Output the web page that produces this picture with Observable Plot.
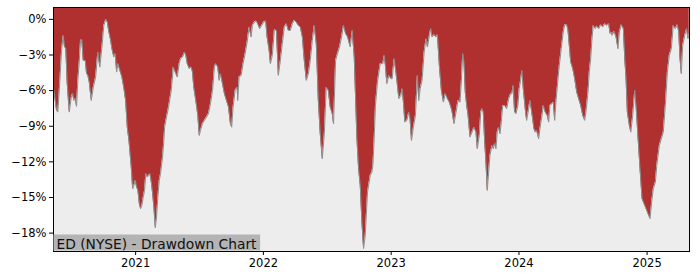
<!DOCTYPE html>
<html><head><meta charset="utf-8">
<script src="https://cdn.jsdelivr.net/npm/d3@7"></script>
<script src="https://cdn.jsdelivr.net/npm/@observablehq/plot@0.6"></script>
<style>body{margin:0;background:#fff;}</style>
</head><body><div id="chart"></div>
<script>
// decimal years of each sample
const years = [
2020.362,2020.383,2020.393,2020.409,2020.422,2020.435,2020.445,2020.455,2020.466,2020.482,
2020.498,2020.508,2020.518,2020.529,2020.539,2020.549,2020.560,2020.570,2020.580,2020.591,
2020.607,2020.617,2020.627,2020.638,2020.654,2020.670,2020.688,2020.705,2020.721,2020.737,
2020.752,2020.768,2020.779,2020.789,2020.805,2020.815,2020.830,2020.841,2020.852,2020.862,
2020.877,2020.893,2020.909,2020.922,2020.935,2020.948,2020.966,2020.977,2020.987,2020.998,
2021.008,2021.018,2021.029,2021.039,2021.049,2021.060,2021.070,2021.080,2021.091,2021.102,
2021.112,2021.123,2021.133,2021.143,2021.154,2021.164,2021.174,2021.185,2021.195,2021.211,
2021.221,2021.227,2021.242,2021.258,2021.279,2021.295,2021.310,2021.326,2021.341,2021.352,
2021.367,2021.383,2021.393,2021.404,2021.420,2021.435,2021.445,2021.455,2021.471,2021.487,
2021.498,2021.508,2021.523,2021.539,2021.555,2021.570,2021.586,2021.602,2021.617,2021.627,
2021.643,2021.654,2021.664,2021.680,2021.695,2021.711,2021.727,2021.742,2021.752,2021.763,
2021.779,2021.795,2021.799,2021.810,2021.826,2021.841,2021.857,2021.873,2021.888,2021.904,
2021.914,2021.930,2021.945,2021.961,2021.971,2021.987,2022.002,2022.018,2022.029,2022.045,
2022.055,2022.070,2022.086,2022.102,2022.117,2022.133,2022.148,2022.164,2022.180,2022.195,
2022.211,2022.227,2022.242,2022.258,2022.273,2022.289,2022.305,2022.320,2022.336,2022.352,
2022.367,2022.383,2022.398,2022.414,2022.430,2022.445,2022.461,2022.477,2022.492,2022.508,
2022.523,2022.539,2022.549,2022.565,2022.580,2022.596,2022.612,2022.627,2022.643,2022.659,
2022.680,2022.695,2022.711,2022.732,2022.745,2022.758,2022.771,2022.784,2022.797,2022.815,
2022.836,2022.849,2022.857,2022.867,2022.877,2022.893,2022.914,2022.935,2022.945,2022.955,
2022.966,2022.982,2022.998,2023.008,2023.023,2023.034,2023.049,2023.060,2023.076,2023.086,
2023.096,2023.107,2023.123,2023.138,2023.148,2023.159,2023.174,2023.190,2023.205,2023.216,
2023.227,2023.242,2023.258,2023.273,2023.284,2023.299,2023.310,2023.320,2023.336,2023.352,
2023.362,2023.377,2023.393,2023.409,2023.424,2023.440,2023.455,2023.471,2023.477,2023.492,
2023.508,2023.523,2023.539,2023.549,2023.560,2023.570,2023.580,2023.591,2023.602,2023.617,
2023.633,2023.648,2023.664,2023.674,2023.690,2023.701,2023.711,2023.721,2023.732,2023.742,
2023.752,2023.763,2023.773,2023.789,2023.799,2023.810,2023.820,2023.830,2023.841,2023.852,
2023.862,2023.873,2023.888,2023.904,2023.920,2023.935,2023.945,2023.955,2023.966,2023.977,
2023.992,2024.002,2024.013,2024.023,2024.034,2024.049,2024.060,2024.076,2024.086,2024.096,
2024.107,2024.117,2024.127,2024.138,2024.154,2024.164,2024.180,2024.190,2024.205,2024.221,
2024.232,2024.242,2024.258,2024.268,2024.279,2024.289,2024.305,2024.315,2024.330,2024.346,
2024.357,2024.373,2024.383,2024.393,2024.404,2024.420,2024.435,2024.451,2024.466,2024.482,
2024.498,2024.513,2024.523,2024.539,2024.549,2024.560,2024.570,2024.580,2024.596,2024.607,
2024.623,2024.638,2024.654,2024.670,2024.685,2024.701,2024.711,2024.721,2024.727,2024.742,
2024.758,2024.773,2024.784,2024.799,2024.815,2024.826,2024.836,2024.846,2024.862,2024.873,
2024.888,2024.904,2024.914,2024.930,2024.945,2024.961,2024.982,2024.998,2025.013,2025.023,
2025.039,2025.049,2025.065,2025.076,2025.096,2025.112,2025.127,2025.143,2025.159,2025.174,
2025.190,2025.205,2025.221,2025.237,2025.248,2025.258,2025.268,2025.279,2025.295,2025.310,
2025.320,2025.330
];
// drawdown in percent
const drawdown = [
-5.98,-7.67,-7.81,-5.14,-2.61,-1.35,-2.33,-2.44,-5.39,-7.81,
-6.55,-6.24,-6.83,-6.66,-7.33,-5.14,-3.60,-1.77,-1.71,-3.46,
-3.46,-4.55,-4.72,-5.28,-6.83,-5.71,-4.86,-2.76,-4.02,-2.33,
-0.51,0,-0.23,-0.93,-1.77,-2.47,-3.18,-2.89,-4.44,-3.73,
-4.30,-4.86,-5.84,-6.83,-9.08,-10.20,-12.45,-14.27,-13.99,-13.57,
-14.13,-14.41,-15.53,-15.95,-15.67,-14.97,-14.41,-12.98,-13.29,-13.15,
-13.00,-13.71,-14.66,-15.82,-17.55,-16.66,-14.97,-13.57,-13.00,-11.60,
-10.20,-9.08,-8.23,-7.39,-5.98,-4.02,-4.44,-4.86,-3.73,-3.31,
-3.18,-2.76,-3.03,-3.73,-4.15,-4.02,-4.44,-5.71,-6.83,-8.09,
-9.78,-9.35,-8.79,-8.51,-8.23,-7.95,-7.10,-5.98,-4.02,-3.73,
-4.02,-5.14,-4.58,-5.42,-6.26,-6.83,-7.39,-8.79,-9.08,-7.39,
-5.98,-5.71,-6.83,-4.86,-4.72,-3.73,-2.89,-1.91,-0.65,-1.49,
-0.51,-0.23,-0.14,-0.51,-0.78,-0.51,-0.23,-0.14,-1.49,-2.61,
-3.73,-3.03,-0.87,-0.93,-4.72,-3.46,-2.05,-0.65,-0.36,-0.93,
-0.93,-0.36,-0.08,-0.25,-0.51,-0.65,-1.49,-3.46,-5.14,-4.58,
-3.46,-1.77,-0.51,-2.05,-6.83,-9.63,-11.74,-9.61,-5.71,-5.98,
-7.39,-7.95,-8.79,-3.46,-2.89,-2.33,-1.49,-0.51,-1.18,-1.49,
-2.33,-0.93,-3.18,-10.03,-12.58,-13.99,-17.08,-19.30,-18.20,-14.55,
-13.15,-12.87,-12.30,-10.05,-7.25,-5.28,-3.73,-3.73,-3.03,-3.88,
-5.42,-4.72,-5.00,-5.00,-3.31,-4.15,-5.56,-6.68,-6.40,-5.84,
-6.97,-8.65,-8.51,-7.81,-8.37,-10.20,-9.08,-8.09,-4.72,-6.83,
-5.84,-5.14,-2.76,-1.63,-2.33,-1.35,-0.78,-1.49,-1.29,-1.49,
-1.29,-3.88,-5.98,-6.97,-6.26,-6.68,-6.97,-7.53,-7.81,-8.79,
-7.81,-6.83,-6.97,-5.28,-2.89,-3.60,-6.13,-7.25,-8.09,-9.92,
-9.50,-9.08,-9.50,-10.90,-9.78,-7.81,-7.53,-7.81,-10.34,-12.03,
-14.41,-12.87,-11.46,-10.62,-10.90,-10.47,-10.90,-9.50,-9.08,-9.63,
-8.65,-7.25,-7.25,-7.53,-6.68,-6.26,-6.26,-5.56,-7.81,-7.95,
-7.25,-5.84,-5.14,-4.30,-5.84,-7.53,-8.51,-7.53,-6.83,-7.53,
-8.37,-9.21,-9.50,-9.35,-10.05,-9.21,-8.09,-7.25,-7.81,-8.09,
-8.65,-7.25,-7.10,-6.97,-8.51,-6.97,-5.00,-3.88,-2.47,-1.07,
-0.45,-0.45,-0.93,-2.19,-3.60,-4.15,-5.00,-6.13,-6.68,-7.25,
-8.09,-8.51,-7.81,-6.13,-4.44,-3.31,-1.63,-0.51,-0.78,-0.56,
-0.78,-0.45,-0.65,-0.36,-0.51,-0.36,-1.21,-1.07,-1.35,-1.01,
-1.49,-2.47,-1.07,-0.45,-0.78,-3.31,-5.00,-7.81,-8.93,-9.50,
-8.09,-5.98,-7.25,-10.05,-12.58,-15.11,-15.67,-16.10,-16.52,-16.79,
-15.11,-14.27,-13.71,-12.30,-10.62,-10.05,-9.50,-7.25,-4.44,-3.03,
-2.47,-0.51,-0.78,-0.45,-1.07,-3.31,-4.58,-2.19,-1.35,-0.78,
-1.63,-1.21
];
const yTicks = [0, -3, -6, -9, -12, -15, -18];
const xTickYears = [2021, 2022, 2023, 2024, 2025];
const xRange = [2020.359, 2025.332];
const yRange = [-19.55, 1.0];
const title = "ED (NYSE) - Drawdown Chart";

function toDate(t) {
  const y = Math.floor(t);
  const s = Date.UTC(y, 0, 1), e = Date.UTC(y + 1, 0, 1);
  return new Date(s + (t - y) * (e - s));
}
const data = years.map((t, i) => ({date: toDate(t), v: drawdown[i]}));
const yTop = yRange[1];
const W = 700, H = 280, mL = 53, mR = 11, mT = 7, mB = 29;

const chart = Plot.plot({
  width: W, height: H,
  marginLeft: mL, marginRight: mR, marginTop: mT, marginBottom: mB,
  style: {fontFamily: "DejaVu Sans", fontSize: "11.5px", color: "#000", background: "#fff"},
  x: {type: "utc", domain: xRange.map(toDate),
      ticks: xTickYears.map(y => new Date(Date.UTC(y, 0, 1))),
      tickFormat: d => String(d.getUTCFullYear()), tickSize: 4, tickPadding: 3, label: null},
  y: {domain: yRange, ticks: yTicks,
      tickFormat: d => (d < 0 ? "\u2212" : "") + Math.abs(d) + "%",
      tickSize: 4, tickPadding: 3, label: null},
  marks: [
    Plot.frame({fill: "#ededed"}),
    Plot.areaY(data, {x: "date", y1: "v", y2: () => yTop, fill: "#b03030"}),
    Plot.lineY(data, {x: "date", y: "v", stroke: "#8e8e8e", strokeWidth: 1}),
    Plot.frame({stroke: "#000"}),
    Plot.text([title], {frameAnchor: "bottom-left", text: d => d, dx: 3, dy: -3,
      fill: "#111", fontSize: 13.8, textAnchor: "start", className: "dd-title"})
  ]
});
document.getElementById("chart").appendChild(chart);

// gray label box behind the title text
const tg = chart.querySelector("g.dd-title");
const t = tg && tg.querySelector("text");
if (t) {
  const sb = chart.getBoundingClientRect();
  const bb = t.getBoundingClientRect();
  const rect = document.createElementNS("http://www.w3.org/2000/svg", "rect");
  const x0 = mL + 0.5, x1 = bb.right - sb.left + 3;
  const y0 = bb.top - sb.top - 1, y1 = H - mB - 0.5;
  rect.setAttribute("x", x0); rect.setAttribute("y", y0);
  rect.setAttribute("width", x1 - x0); rect.setAttribute("height", y1 - y0);
  rect.setAttribute("fill", "#b4b4b4");
  chart.insertBefore(rect, tg);
}
</script>
</body></html>
